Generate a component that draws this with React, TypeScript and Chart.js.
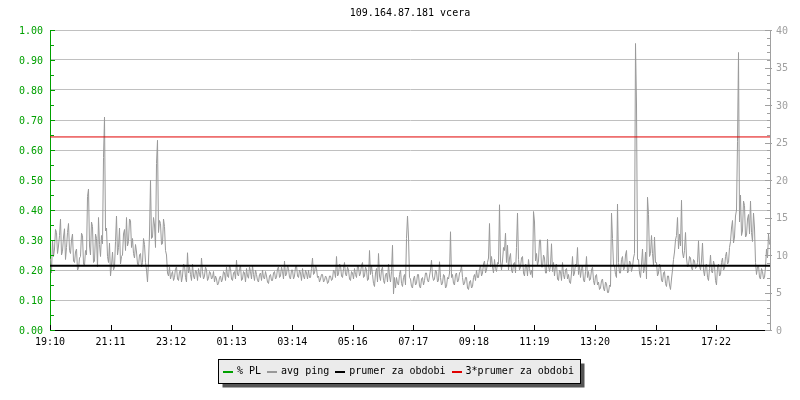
import React, { useEffect, useRef } from 'react';
import { Chart, registerables } from 'chart.js';

Chart.register(...registerables);

const TITLE = '109.164.87.181 vcera';
const FONT_FAMILY = '"DejaVu Sans Mono", "Liberation Mono", monospace';
const FONT = `10px ${FONT_FAMILY}`;

// time axis (minutes from 19:10)
const RANGE_MINUTES = 1440;
const SAMPLE_STEP_MINUTES = 2;
const X_TICK_STEP_MINUTES = 121.1;
const X_TICK_LABELS = ['19:10', '21:11', '23:12', '01:13', '03:14', '05:16', '07:17', '09:18', '11:19', '13:20', '15:21', '17:22'];

// left axis: packet loss (%), right axis: ping (ms)
const PL_MAX = 1;
const PL_STEP = 0.1;
const PING_MAX = 40;
const PING_STEP = 5;

const SERIES_LABELS = ['% PL', 'avg ping', 'prumer za obdobi', '3*prumer za obdobi'];
const SERIES_COLORS = ['#00a000', '#999999', '#000000', '#e00000'];

// packet loss samples (none visible)
const PL_PERCENT: number[] = [];

// average ping (ms), one sample per 2 minutes
const PING_EVENING = [
  9.5, 7.6, 12.0, 9.8, 10.8, 13.4, 13.0, 10.2, 11.2, 12.6,
  14.8, 10.0, 10.5, 12.4, 13.5, 9.4, 11.0, 13.0, 14.2, 10.6,
  10.2, 12.0, 12.8, 9.2, 9.0, 10.4, 10.8, 8.0, 8.2, 9.6,
  9.8, 12.9, 12.6, 8.8, 8.6, 10.6, 10.0, 17.8, 18.8, 11.2,
  10.0, 14.4, 13.8, 9.0, 9.2, 12.8, 12.2, 8.4, 15.0, 11.4,
  9.8, 12.6, 11.5, 23.0, 28.4, 13.2, 13.6, 9.8, 9.0, 11.6,
  7.2, 8.6, 10.4, 8.0, 8.4, 11.8, 15.2, 10.0, 11.0, 13.6,
  8.8, 9.8, 10.0, 12.8, 13.4, 10.6, 15.0, 11.2, 11.8, 14.8,
  14.6, 11.0, 12.2, 10.2, 9.6, 11.4, 10.4, 8.8, 8.6, 10.0,
  10.2, 8.4, 9.0, 12.2, 11.4, 9.0, 8.0, 6.4, 9.2, 12.8,
  20.0, 12.2, 12.4, 15.0, 14.0, 11.0, 22.2, 25.3, 13.0, 14.6,
  14.2, 11.4, 11.5, 14.8, 13.8, 10.6, 10.0, 7.6, 7.2, 8.4,
  6.8, 7.4,
];
const PING_NIGHT = [
  7.8, 6.6, 7.0, 8.2, 8.4, 6.8, 6.6, 7.8, 8.0, 6.4,
  7.2, 8.8, 8.6, 7.0, 6.4, 10.3, 7.6, 8.4, 7.4, 6.6,
  8.8, 7.2, 6.8, 8.0, 7.8, 6.6, 8.2, 7.4, 7.0, 9.6,
  7.8, 6.8, 7.2, 8.4, 8.0, 6.6, 6.9, 7.8, 7.6, 6.8,
  7.0, 7.8, 6.4, 7.2, 6.8, 6.0, 6.2, 7.0, 7.2, 6.4,
  6.8, 7.8, 7.6, 6.6, 8.4, 7.2, 7.0, 8.6, 8.2, 6.8,
  6.6, 7.6, 7.8, 6.8, 9.3, 7.4, 7.2, 8.2, 8.6, 6.6,
  6.8, 7.8, 7.6, 6.4, 8.2, 7.2, 6.9, 8.4, 7.8, 6.8,
  8.6, 7.4, 6.6, 8.0, 7.4, 6.6, 6.4, 7.4, 7.6, 6.6,
  8.0, 7.0, 6.8, 7.8, 7.2, 6.4, 6.2, 7.2, 7.4, 6.6,
  6.6, 7.6, 7.8, 6.8, 7.0, 8.2, 8.4, 7.0, 7.2, 8.4,
  7.8, 6.8, 9.2, 7.2, 7.4, 8.6, 8.2, 7.0, 6.8, 8.0,
  8.0, 6.8, 7.2, 8.4, 8.6, 7.2, 7.0, 8.0, 7.6, 6.6,
  8.2, 7.2, 6.8, 8.0, 7.6, 6.8, 8.0, 7.0, 7.0, 8.2,
  9.6, 7.4, 7.6, 8.6, 8.2, 7.0, 7.2, 6.4, 6.8, 7.4,
  7.4, 6.4, 6.6, 7.2, 7.0, 6.2, 6.4, 7.2, 7.2, 6.6,
  6.8, 8.0, 7.8, 7.0, 9.8, 7.2, 7.4, 8.8, 8.6, 7.2,
  7.0, 8.2, 9.0, 7.4, 7.2, 8.4, 8.0, 6.8, 6.6, 7.8,
  7.6, 6.8, 8.2, 7.4, 7.0, 8.6, 8.4, 7.2, 7.6, 8.6,
  9.0, 7.0, 7.2, 8.4, 8.0, 6.6, 6.8, 10.6, 7.4, 8.6,
  7.4, 6.2, 5.8, 7.6, 8.2, 6.4, 10.2, 7.2, 6.6, 8.0,
  8.4, 6.6, 6.2, 7.4, 7.6, 6.4, 8.8, 7.2, 6.4, 7.8,
  11.3, 4.8, 7.0, 5.6, 7.0, 6.2, 6.0, 7.4, 8.0, 6.2,
  5.8, 7.0, 7.4, 6.0, 12.2, 15.2, 12.4, 7.0, 6.8, 5.8,
  5.6, 6.8, 7.2,
];
const PING_MORNING = [
  6.0,
  6.2, 7.4, 7.4, 5.8, 5.6, 6.8, 7.0, 6.0, 6.6, 7.6,
  7.6, 6.6, 6.4, 7.2, 8.0, 9.3, 7.2, 6.6, 6.8, 8.0,
  7.8, 6.4, 6.6, 9.1, 7.0, 6.0, 6.2, 7.4, 7.2, 5.6,
  5.8, 7.0, 6.8, 7.6, 13.1, 7.0, 7.4, 6.2, 6.0, 7.4,
  7.6, 6.4, 6.6, 7.6, 7.8, 8.6, 7.0, 6.0, 6.2, 7.0,
  7.0, 5.6, 5.4, 6.4, 6.6, 5.6, 5.8, 7.0, 7.4, 6.6,
  8.0, 7.0, 7.0, 8.2, 8.6, 7.2, 7.6, 8.8, 9.2, 7.6,
  8.0, 9.0, 9.6, 14.2, 8.4, 9.8, 8.4, 7.6, 9.4, 8.2,
  7.8, 9.0, 8.8, 16.7, 9.2, 8.0, 9.2, 11.0, 10.6, 12.9,
  9.0, 11.3, 8.0, 9.6, 10.2, 8.0, 7.6, 8.8, 9.0, 7.6,
  11.0, 15.6, 9.4, 8.0, 8.4, 9.6, 9.8, 7.6, 7.2, 8.8,
  8.6, 7.2, 9.4, 8.2,
  7.4,
];
const PING_MIDDAY = [
  8.0,
  7.0, 15.8, 14.4, 9.2, 10.2, 8.6, 9.2, 12.0, 12.0, 8.4,
  8.4, 10.0, 9.6, 7.6, 7.6, 12.1, 8.6, 7.8, 8.6, 11.5,
  7.8, 9.0, 7.2, 8.6, 8.8, 6.8, 6.6, 8.0, 7.8, 6.6,
  9.0, 7.4, 6.8, 8.0, 8.2, 6.8, 7.4, 6.4, 6.2, 7.6,
  9.8, 7.2, 7.6, 8.8, 8.4, 11.0, 7.4, 8.6, 7.0, 8.2,
  8.6, 6.6, 6.4, 7.8, 9.8, 7.0, 7.8, 6.6, 6.8, 8.0,
  8.4, 6.6, 6.0, 7.2, 7.4, 6.0, 6.4, 5.4, 5.6, 6.6,
  6.8, 5.6, 5.2, 6.4, 6.2, 5.0, 5.0, 6.0, 5.8, 15.6,
  12.2, 8.6, 8.6, 7.4, 7.0, 16.8, 9.0, 7.6, 7.6, 9.4,
  9.8, 8.0, 8.2, 10.0, 10.6, 7.6, 7.8, 9.2, 9.0, 7.8,
  8.4, 9.6, 10.2, 38.2, 30.0, 9.4, 9.4, 7.6, 7.0, 8.8,
  10.8, 7.6, 8.2, 10.4, 6.8, 17.7, 15.4, 9.8, 10.2, 12.6,
  10.2, 8.6,
  12.4,
];
const PING_AFTERNOON = [
  9.0,
  9.0, 7.2, 7.6, 8.8, 8.4, 6.6, 6.4, 7.6, 7.8, 6.2,
  5.8, 7.2, 7.2, 6.0, 5.4, 6.8, 8.0, 9.4, 10.4, 12.0,
  12.6, 15.0, 10.8, 12.8, 11.2, 17.3, 10.4, 9.6, 10.6, 13.0,
  9.6, 8.4, 8.6, 9.8, 9.6, 8.2, 8.0, 9.4, 9.2, 8.2,
  8.4, 9.0, 11.9, 8.6, 8.0, 9.2, 11.6, 8.0, 7.2, 8.6,
  8.8, 7.0, 6.6, 8.2, 10.0, 7.8, 7.6, 9.2, 8.6, 6.6,
  6.0, 8.4, 8.8, 7.2, 7.4, 9.0, 9.6, 8.0, 8.2, 9.8,
  10.4, 8.8, 9.0, 11.0, 11.8, 13.6, 14.6, 11.6, 12.4, 15.2,
  16.0, 25.1, 37.0, 14.4, 18.0, 12.6, 13.2, 17.2, 16.6, 12.4,
  12.6, 14.8, 15.4, 12.8, 17.2, 13.0, 11.8, 15.6, 13.6, 9.0,
  7.4, 8.4, 8.6, 7.0, 6.8, 8.2, 7.8, 6.8, 7.0, 8.4,
  10.8, 9.6, 12.8, 11.4,
];
const PING_MS = [...PING_EVENING, ...PING_NIGHT, ...PING_MORNING, ...PING_MIDDAY, ...PING_AFTERNOON];

const MEAN_PING = 8.58;
const TRIPLE_MEAN_PING = 25.74;

const decorPlugin = {
  id: 'decor',
  afterDraw(chart: any) {
    const { ctx, chartArea } = chart;
    const yL = chart.scales.yL;
    const yR = chart.scales.yR;
    const x = chart.scales.x;
    ctx.save();

    // inward tick marks, left axis
    ctx.lineWidth = 1;
    ctx.strokeStyle = SERIES_COLORS[0];
    for (let k = 0; k <= 20; k++) {
      const y = Math.round(yL.getPixelForValue(k * PL_STEP / 2)) + 0.5;
      const len = k % 2 === 0 ? 5 : 4;
      ctx.beginPath();
      ctx.moveTo(chartArea.left, y);
      ctx.lineTo(chartArea.left + len, y);
      ctx.stroke();
    }
    // right axis
    ctx.strokeStyle = '#a0a0a0';
    for (let v = 0; v <= PING_MAX; v++) {
      const y = Math.round(yR.getPixelForValue(v)) + 0.5;
      const major = v % PING_STEP === 0;
      ctx.beginPath();
      ctx.moveTo(chartArea.right - (major ? 5 : 3), y);
      ctx.lineTo(chartArea.right + (major ? 2 : 0), y);
      ctx.stroke();
    }
    // bottom axis
    ctx.strokeStyle = '#000';
    x.ticks.forEach((t: any) => {
      const px = Math.round(x.getPixelForValue(t.value)) + 0.5;
      ctx.beginPath();
      ctx.moveTo(px, chartArea.bottom - 5);
      ctx.lineTo(px, chartArea.bottom);
      ctx.stroke();
    });

    // title
    ctx.font = FONT;
    ctx.fillStyle = '#000';
    ctx.textAlign = 'center';
    ctx.textBaseline = 'middle';
    ctx.fillText(TITLE, (chartArea.left + chartArea.right) / 2, 13);

    // legend
    const items = chart.data.datasets.map((d: any) => ({ label: d.label, color: d.borderColor }));
    const marker = 10, gapM = 4, gapI = 6, padL = 4.5, padR = 7;
    let total = padL + padR;
    items.forEach((it: any, k: number) => {
      total += marker + gapM + ctx.measureText(it.label).width + (k < items.length - 1 ? gapI : 0);
    });
    const bx = Math.round(399 - total / 2) + 0.5;
    const by = 359.5;
    const bw = Math.round(total);
    const bh = 24;
    ctx.fillStyle = '#555555';
    ctx.fillRect(bx + 4, by + 4, bw, bh);
    ctx.fillStyle = '#ebebeb';
    ctx.fillRect(bx, by, bw, bh);
    ctx.strokeStyle = '#000';
    ctx.lineWidth = 1;
    ctx.strokeRect(bx, by, bw, bh);
    let lx = bx + padL;
    const cy = 371;
    ctx.textAlign = 'left';
    items.forEach((it: any) => {
      ctx.fillStyle = it.color;
      ctx.fillRect(Math.round(lx), cy, marker, 2);
      lx += marker + gapM;
      ctx.fillStyle = '#000';
      ctx.fillText(it.label, lx, cy);
      lx += ctx.measureText(it.label).width + gapI;
    });
    ctx.restore();
  },
};

export default function App() {
  const ref = useRef<HTMLCanvasElement | null>(null);

  useEffect(() => {
    document.body.style.margin = '0';
    const canvas = ref.current;
    if (!canvas) return;
    const font = { family: FONT_FAMILY, size: 10 };
    // samples are centred in their 2-minute slot so each one lands on a pixel centre
    const slotCentre = SAMPLE_STEP_MINUTES / 2;
    const chart = new Chart(canvas, {
      type: 'line',
      data: {
        datasets: [
          {
            label: SERIES_LABELS[0],
            data: PL_PERCENT.map((v, i) => ({ x: i * SAMPLE_STEP_MINUTES + slotCentre, y: v })),
            yAxisID: 'yL',
            borderColor: SERIES_COLORS[0],
            borderWidth: 1,
            pointRadius: 0,
            order: 3,
          },
          {
            label: SERIES_LABELS[1],
            data: PING_MS.map((v, i) => ({ x: i * SAMPLE_STEP_MINUTES + slotCentre, y: v })),
            yAxisID: 'yR',
            borderColor: SERIES_COLORS[1],
            borderWidth: 1,
            pointRadius: 0,
            order: 2,
          },
          {
            label: SERIES_LABELS[2],
            data: [{ x: 0, y: MEAN_PING }, { x: RANGE_MINUTES, y: MEAN_PING }],
            yAxisID: 'yR',
            borderColor: SERIES_COLORS[2],
            borderWidth: 2,
            pointRadius: 0,
            order: 1,
          },
          {
            label: SERIES_LABELS[3],
            data: [{ x: 0, y: TRIPLE_MEAN_PING }, { x: RANGE_MINUTES, y: TRIPLE_MEAN_PING }],
            yAxisID: 'yR',
            borderColor: SERIES_COLORS[3],
            borderWidth: 1,
            pointRadius: 0,
            order: 0,
          },
        ],
      },
      options: {
        animation: false,
        responsive: false,
        events: [],
        layout: { padding: { top: 30, left: 0, right: 0, bottom: 0 } },
        elements: { line: { tension: 0 } },
        plugins: { legend: { display: false }, title: { display: false }, tooltip: { enabled: false } },
        scales: {
          x: {
            type: 'linear',
            min: 0,
            max: RANGE_MINUTES,
            afterFit: (s: any) => { s.height = 70; },
            afterBuildTicks: (s: any) => {
              s.ticks = X_TICK_LABELS.map((_, k) => ({ value: k * X_TICK_STEP_MINUTES }));
            },
            ticks: {
              callback: (_v: any, i: number) => X_TICK_LABELS[i],
              color: '#000',
              font,
              padding: 6,
              maxRotation: 0,
              autoSkip: false,
            },
            grid: { display: false, drawTicks: false },
            border: { color: '#000', width: 1 },
          },
          yL: {
            type: 'linear',
            position: 'left',
            min: 0,
            max: PL_MAX,
            afterFit: (s: any) => { s.width = 50; },
            ticks: {
              stepSize: PL_STEP,
              callback: (v: any) => Number(v).toFixed(2),
              color: SERIES_COLORS[0],
              font,
              padding: 7,
              labelOffset: 1,
            },
            grid: { color: '#c0c0c0', drawTicks: false, lineWidth: 1 },
            border: { color: SERIES_COLORS[0], width: 1 },
          },
          yR: {
            type: 'linear',
            position: 'right',
            min: 0,
            max: PING_MAX,
            afterFit: (s: any) => { s.width = 30; },
            ticks: {
              stepSize: PING_STEP,
              color: '#a0a0a0',
              font,
              padding: 6,
              labelOffset: 1,
            },
            grid: { drawOnChartArea: false, drawTicks: false },
            border: { color: '#a0a0a0', width: 1 },
          },
        },
      },
      plugins: [decorPlugin],
    } as any);
    return () => chart.destroy();
  }, []);

  return (
    <div style={{ position: 'fixed', left: 0, top: 0, width: 800, height: 400, background: '#fff' }}>
      <canvas ref={ref} width={800} height={400} style={{ width: 800, height: 400, display: 'block' }} />
    </div>
  );
}
